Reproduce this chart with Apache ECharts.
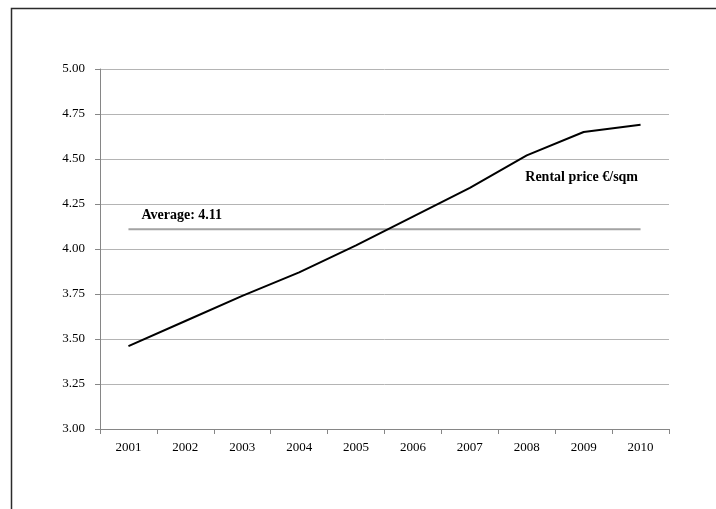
<!DOCTYPE html>
<html>
<head>
<meta charset="utf-8">
<script src="https://cdn.jsdelivr.net/npm/echarts@6/dist/echarts.min.js"></script>
<style>
  html, body { margin: 0; padding: 0; background: #fff; }
  #chart { width: 716px; height: 509px; }
</style>
</head>
<body>
<div id="chart"></div>
<script>
// Average rental price per square metre, 2001–2010
const years = ['2001', '2002', '2003', '2004', '2005', '2006', '2007', '2008', '2009', '2010'];
const rentalPrice = [3.46, 3.60, 3.74, 3.87, 4.02, 4.18, 4.34, 4.52, 4.65, 4.69];
const averagePrice = 4.11;
const yTicks = [3.00, 3.25, 3.50, 3.75, 4.00, 4.25, 4.50, 4.75, 5.00];
const seriesLabel = 'Rental price €/sqm';

const FONT = '"Liberation Serif", "DejaVu Serif", serif';

const chart = echarts.init(document.getElementById('chart'), null, { renderer: 'canvas' });

chart.setOption({
  animation: false,
  backgroundColor: '#ffffff',
  graphic: [{
    type: 'rect',
    left: 9,
    top: 6,
    shape: { width: 740, height: 540 },
    style: { fill: 'none', stroke: '#2b2b2b', lineWidth: 1.5 },
    silent: true
  }],
  grid: { left: 100, right: 47, top: 69, bottom: 80 },
  xAxis: {
    type: 'category',
    data: years,
    boundaryGap: true,
    axisLine: { lineStyle: { color: '#868686', width: 1 } },
    axisTick: { show: true, length: 5, alignWithLabel: false, lineStyle: { color: '#868686' } },
    axisLabel: { color: '#000', fontFamily: FONT, fontSize: 13, margin: 12 },
    splitLine: { show: false }
  },
  yAxis: {
    type: 'value',
    min: yTicks[0],
    max: yTicks[yTicks.length - 1],
    interval: 0.25,
    axisLine: { show: true, lineStyle: { color: '#868686', width: 1 } },
    axisTick: { show: true, length: 5, lineStyle: { color: '#868686' } },
    axisLabel: {
      color: '#000', fontFamily: FONT, fontSize: 13, margin: 15,
      formatter: v => v.toFixed(2)
    },
    splitLine: { show: true, lineStyle: { color: '#b4b4b4', width: 1 } }
  },
  series: [
    {
      name: 'Average',
      type: 'line',
      data: years.map(() => averagePrice),
      symbol: 'none',
      lineStyle: { color: '#a3a3a3', width: 2 },
      z: 2,
      markPoint: {
        symbol: 'circle',
        symbolSize: 0,
        data: [{ coord: [years[0], averagePrice] }],
        label: {
          show: true,
          position: 'inside',
          align: 'left',
          verticalAlign: 'middle',
          offset: [13, -14],
          color: '#000',
          fontFamily: FONT,
          fontSize: 14,
          fontWeight: 'bold',
          formatter: () => 'Average: ' + averagePrice.toFixed(2)
        }
      }
    },
    {
      name: seriesLabel,
      type: 'line',
      data: rentalPrice,
      symbol: 'none',
      lineStyle: { color: '#000000', width: 2 },
      z: 3,
      markPoint: {
        symbol: 'circle',
        symbolSize: 0,
        data: [{ coord: [years[8], 4.40] }],
        label: {
          show: true,
          position: 'inside',
          align: 'center',
          verticalAlign: 'middle',
          offset: [-2, 0],
          color: '#000',
          fontFamily: FONT,
          fontSize: 14,
          fontWeight: 'bold',
          formatter: () => seriesLabel
        }
      }
    }
  ]
});
</script>
</body>
</html>
